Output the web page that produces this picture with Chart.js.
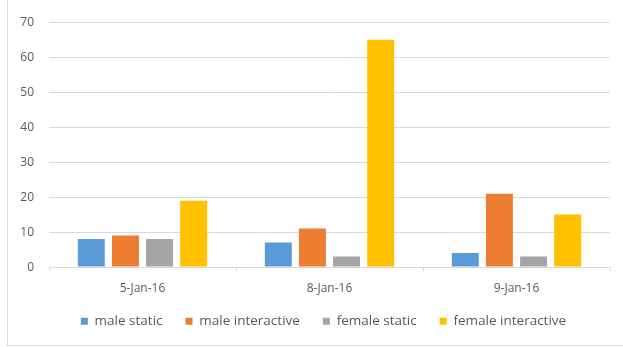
<!DOCTYPE html>
<html>
<head>
<meta charset="utf-8">
<script src="https://cdn.jsdelivr.net/npm/chart.js@4/dist/chart.umd.min.js"></script>
<style>
    body { margin: 0; background: #fff; }
    .frame {
        position: absolute; left: 7px; top: 0; width: 615px; height: 345px;
        border-left: 1px solid #d9d9d9; border-bottom: 1px solid #d9d9d9;
    }
    canvas { display: block; }
</style>
</head>
<body>
<div class="frame"><canvas id="visitsChart" width="615" height="345"></canvas></div>
<script>
// ==================== DATA ====================
const dates = ['5-Jan-16', '8-Jan-16', '9-Jan-16'];
const maleStatic = [8, 7, 4];
const maleInteractive = [9, 11, 21];
const femaleStatic = [8, 3, 3];
const femaleInteractive = [19, 65, 15];
const yTicks = [0, 10, 20, 30, 40, 50, 60, 70];

const textColor = '#595959';
const gridColor = '#d9d9d9';
const font = { family: 'Open Sans', size: 12 };

function series(label, data, color) {
    return {
        label: label,
        data: data,
        backgroundColor: color,
        borderWidth: 0,
        categoryPercentage: 0.73,
        barPercentage: 0.79
    };
}

// x labels sit closer to the legend than Chart.js would put them:
// shrink the axis box and stop it clipping its own labels
function tightenXAxis(scale) {
    scale.height -= 14;
    scale._computeLabelArea = () => undefined;
}

// legend is centred a bit right of the canvas middle in the original
const nudgeLegend = {
    id: 'nudgeLegend',
    afterLayout(chart) {
        chart.legend.left += 13;
        chart.legend.right += 13;
    }
};

// ==================== CHART ====================
new Chart(document.getElementById('visitsChart'), {
    type: 'bar',
    data: {
        labels: dates,
        datasets: [
            series('male static', maleStatic, '#5b9bd5'),
            series('male interactive', maleInteractive, '#ed7d31'),
            series('female static', femaleStatic, '#a5a5a5'),
            series('female interactive', femaleInteractive, '#ffc000')
        ]
    },
    plugins: [nudgeLegend],
    options: {
        responsive: false,
        animation: false,
        layout: { padding: { top: 10, right: 13, bottom: 7, left: 3 } },
        plugins: {
            legend: {
                position: 'bottom',
                labels: {
                    boxWidth: 7, boxHeight: 7, padding: 23,
                    color: textColor, font: { family: 'Open Sans', size: 13.5 }
                }
            },
            tooltip: { enabled: false }
        },
        scales: {
            y: {
                min: 0, max: 70,
                afterBuildTicks: axis => { axis.ticks = yTicks.map(v => ({ value: v })); },
                afterFit: scale => { scale.width = 38; },
                border: { display: false },
                grid: { color: gridColor, lineWidth: 1, drawTicks: false },
                ticks: { color: textColor, font: font, padding: 15 }
            },
            x: {
                afterFit: tightenXAxis,
                border: { color: gridColor },
                grid: { drawOnChartArea: false, drawTicks: true, tickLength: 4, color: gridColor },
                ticks: { color: textColor, font: font, padding: 10 }
            }
        }
    }
});
</script>
</body>
</html>
